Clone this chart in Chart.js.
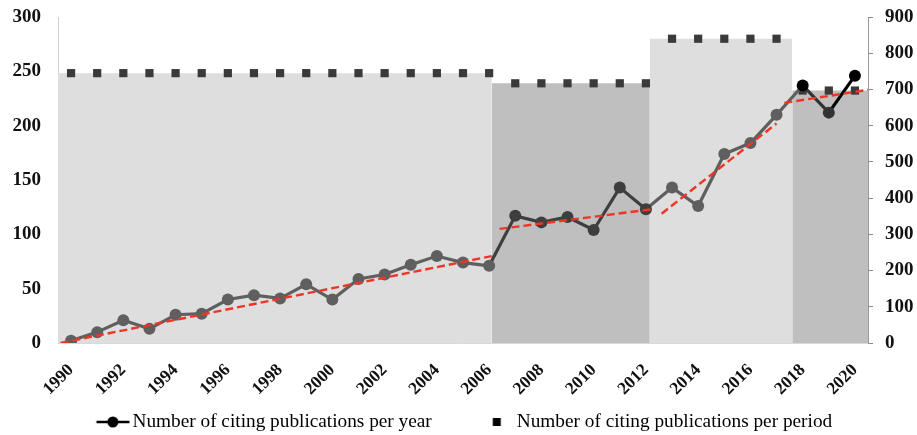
<!DOCTYPE html>
<html>
<head>
<meta charset="utf-8">
<script src="https://cdn.jsdelivr.net/npm/chart.js@4.4.0/dist/chart.umd.min.js"></script>
<style>
  html, body { margin: 0; padding: 0; background: #fff; }
</style>
</head>
<body>
<canvas id="cites" width="917" height="435"></canvas>
<script>
// citing publications per year (left axis)
let years = [1990, 1991, 1992, 1993, 1994, 1995, 1996, 1997, 1998, 1999, 2000,
  2001, 2002, 2003, 2004, 2005, 2006, 2007, 2008, 2009, 2010,
  2011, 2012, 2013, 2014, 2015, 2016, 2017, 2018, 2019, 2020];
let perYear = [2, 10, 21, 13, 26, 27, 40, 44, 41, 54, 40,
  59, 63, 72, 80, 74, 71, 117, 111, 116, 104,
  143, 123, 143, 126, 174, 184, 210, 237, 212, 246];

// citing publications per period (right axis)
let periodYears = [
  [1990, 1991, 1992, 1993, 1994, 1995, 1996, 1997, 1998, 1999, 2000, 2001, 2002, 2003, 2004, 2005, 2006],
  [2007, 2008, 2009, 2010, 2011, 2012],
  [2013, 2014, 2015, 2016, 2017],
  [2018, 2019, 2020]
];
let periodTotals = [745, 717, 840, 697];
let periodEdges = [1989.5, 2006.1, 2012.15, 2017.6, 2020.5];

// red dashed trend lines, read at both ends
let trendX = [[1989.6, 2006.1], [2006.4, 2012.2], [2012.6, 2017.0], [2017.3, 2020.5]];
let trendY = [[0, 80], [105, 123], [119, 202], [221, 233]];

let tickYears = [1990, 1992, 1994, 1996, 1998, 2000, 2002, 2004, 2006, 2008, 2010, 2012, 2014, 2016, 2018, 2020];

let fillColors = ['#dedede', '#bfbfbf', '#dedede', '#bfbfbf'];
let dotColors = ['#5f5f5f', '#3e3e3e', '#5f5f5f', '#333333'];

function dotColor(year) {
  if (year === 2018 || year === 2020) return '#000000';
  for (let i = 0; i < periodYears.length; i++) {
    if (periodYears[i].indexOf(year) >= 0) return dotColors[i];
  }
  return '#5f5f5f';
}

// legend markers, drawn centred on the legend box
function legendIcon(kind) {
  let c = document.createElement('canvas');
  c.width = 100;
  c.height = 20;
  let g = c.getContext('2d');
  g.fillStyle = '#000';
  g.strokeStyle = '#000';
  if (kind === 'line') {
    g.lineWidth = 2.5;
    g.beginPath();
    g.moveTo(52.6, 10);
    g.lineTo(85.6, 10);
    g.stroke();
    g.beginPath();
    g.arc(69, 10, 5.5, 0, Math.PI * 2);
    g.fill();
  } else {
    g.fillRect(64.6, 6, 8, 8);
  }
  return c;
}

// keep the tick label padding from pushing the plot down
function noPad(scale, w) {
  scale.width = w;
  scale.paddingTop = 0;
  scale.paddingBottom = 0;
}

let datasets = [];

// period backgrounds
periodTotals.forEach((total, i) => {
  datasets.push({
    yAxisID: 'y1',
    data: [{x: periodEdges[i], y: total}, {x: periodEdges[i + 1], y: total}],
    fill: 'origin',
    backgroundColor: fillColors[i],
    borderWidth: 0,
    pointRadius: 0,
    order: 4
  });
});

// period markers
periodTotals.forEach((total, i) => {
  datasets.push({
    yAxisID: 'y1',
    data: periodYears[i].map(y => ({x: y, y: total})),
    showLine: false,
    pointStyle: 'rect',
    pointRadius: 5.8,
    pointBorderWidth: 0,
    pointBackgroundColor: '#3a3a3a',
    order: 3
  });
});

// yearly line
let yearPoints = years.map((y, i) => ({x: y, y: perYear[i]}));
datasets.push({
  yAxisID: 'y',
  data: yearPoints,
  borderWidth: 3.2,
  borderColor: '#5f5f5f',
  segment: {
    borderColor: ctx => {
      let yr = years[ctx.p1DataIndex];
      return yr === 2018 ? '#5f5f5f' : dotColor(yr);
    }
  },
  pointRadius: 6,
  pointBorderWidth: 0,
  pointBackgroundColor: years.map(dotColor),
  tension: 0,
  order: 2
});

// trend lines
trendX.forEach((xs, i) => {
  datasets.push({
    yAxisID: 'y',
    data: [{x: xs[0], y: trendY[i][0]}, {x: xs[1], y: trendY[i][1]}],
    borderColor: '#ee3526',
    borderWidth: 2.4,
    borderDash: [8, 4],
    pointRadius: 0,
    fill: false,
    order: 1
  });
});

let tickFont = {family: 'Liberation Serif', size: 19, weight: 'bold'};

new Chart(document.getElementById('cites'), {
  type: 'line',
  data: {datasets: datasets},
  options: {
    responsive: false,
    animation: false,
    layout: {padding: {top: 17, right: 0, left: -20, bottom: 0}},
    plugins: {
      tooltip: {enabled: false},
      legend: {
        position: 'bottom',
        maxHeight: 40,
        labels: {
          usePointStyle: true,
          pointStyleWidth: 58,
          padding: 17.35,
          color: '#000',
          font: {family: 'Liberation Serif', size: 19.3},
          generateLabels: () => [
            {text: 'Number of citing publications per year', pointStyle: legendIcon('line'),
              fillStyle: '#000', strokeStyle: '#000', lineWidth: 0, hidden: false, fontColor: '#000', datasetIndex: 8},
            {text: 'Number of citing publications per period', pointStyle: legendIcon('rect'),
              fillStyle: '#000', strokeStyle: '#000', lineWidth: 0, hidden: false, fontColor: '#000', datasetIndex: 4}
          ]
        }
      }
    },
    scales: {
      x: {
        type: 'linear',
        min: 1989.5,
        max: 2020.5,
        afterBuildTicks: scale => { scale.ticks = tickYears.map(v => ({value: v})); },
        afterFit: scale => { scale.height = 52; },
        grid: {display: false},
        border: {display: true, color: '#d9d9d9', width: 1},
        ticks: {
          autoSkip: false,
          minRotation: 45,
          maxRotation: 45,
          padding: 9,
          color: '#111',
          font: {family: 'Liberation Serif', size: 17.5, weight: 'bold'},
          callback: v => String(v)
        }
      },
      y: {
        position: 'left',
        min: 0,
        max: 300,
        afterFit: scale => noPad(scale, 78),
        grid: {display: false, drawTicks: false},
        border: {display: true, color: '#cfcfcf', width: 1},
        ticks: {stepSize: 50, padding: 17, color: '#111', font: tickFont}
      },
      y1: {
        position: 'right',
        min: 0,
        max: 900,
        afterFit: scale => noPad(scale, 49),
        grid: {drawOnChartArea: false, drawTicks: true, tickLength: 5, color: '#8a8a8a'},
        border: {display: true, color: '#9a9a9a', width: 1},
        ticks: {stepSize: 100, padding: 12, color: '#111', font: tickFont}
      }
    }
  }
});
</script>
</body>
</html>
